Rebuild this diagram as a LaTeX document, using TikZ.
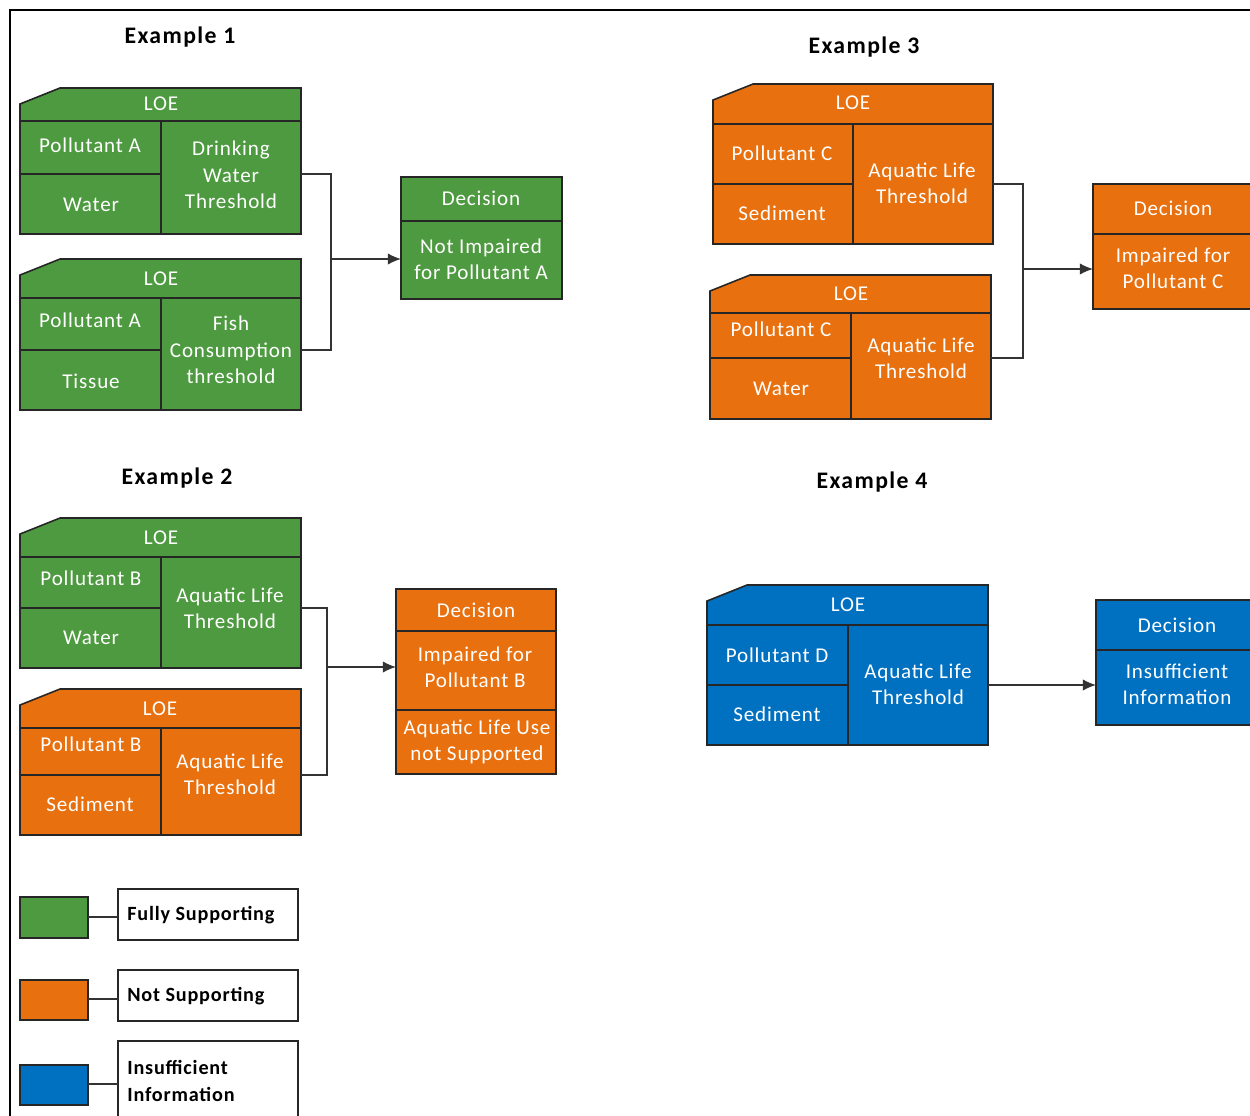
\documentclass[tikz,border=0pt]{standalone}
\usepackage{fontspec}
\setmainfont{Carlito}
\newfontfamily\boxfont[LetterSpace=4]{Carlito}
\newfontfamily\titlefont[LetterSpace=6]{Carlito}
\usetikzlibrary{arrows.meta}
\definecolor{cgreen}{HTML}{4E9A40}
\definecolor{corange}{HTML}{E8700F}
\definecolor{cblue}{HTML}{0070C0}
\tikzset{
  edge/.style={draw=black!85, line width=0.9pt, line join=miter},
  txt/.style={text=white, font=\boxfont\fontsize{12}{15}\selectfont, align=center, inner sep=0pt},
  ttl/.style={font=\titlefont\bfseries\fontsize{13.5}{16}\selectfont, inner sep=0pt},
  leg/.style={font=\boxfont\bfseries\fontsize{11.5}{15}\selectfont, align=left, inner sep=0pt, anchor=west},
  wire/.style={draw=black!80, line width=0.8pt},
  arr/.style={wire, -{Latex[length=7.5pt,width=6.5pt]}},
}
% name, xl, yt, xr, yh, ym, yb, xv, color
\newcommand\loebox[9]{%
  \path[fill=#9, edge] (#2+40,#3) -- (#4,#3) -- (#4,#7) -- (#2,#7) -- (#2,#3+16) -- cycle;
  \draw[edge] (#2,#5) -- (#4,#5) (#8,#5) -- (#8,#7) (#2,#6) -- (#8,#6);
  \coordinate (#1) at (#4,#6);
}
% name, xl, yt, xr, yd, ys, yb, color
\newcommand\decbox[8]{%
  \path[fill=#8, edge] (#2,#3) rectangle (#4,#7);
  \draw[edge] (#2,#5) -- (#4,#5) (#2,#6) -- (#4,#6);
  \coordinate (#1) at (#2,{(#5+#6)/2});
}
\begin{document}
\begin{tikzpicture}[x=0.02cm,y=-0.02cm]
\useasboundingbox (0,0) rectangle (1250,1115);
\clip (0,0) rectangle (1250,1115);
\fill[white] (0,0) rectangle (1250,1115);
\draw[line width=1.2pt] (10,1120) -- (10,10) -- (1260,10);

% ---------- Example 1 ----------
\node[ttl] (t1) at (180,37) {Example 1};
\loebox{e1a}{20}{88}{301}{121}{174}{234}{161}{cgreen}
\node[txt] (e1aH) at (161,104) {LOE};
\node[txt] (e1aP) at (90,145) {Pollutant A};
\node[txt] (e1aM) at (91,205) {Water};
\node[txt] (e1aT) at (231,175) {Drinking\\Water\\Threshold};
\loebox{e1b}{20}{259}{301}{298}{350}{410}{161}{cgreen}
\node[txt] (e1bH) at (161,279) {LOE};
\node[txt] (e1bP) at (90,320) {Pollutant A};
\node[txt] (e1bM) at (91,381) {Tissue};
\node[txt] (e1bT) at (231,350) {Fish\\Consumption\\threshold};
\decbox{d1}{401}{177}{562}{221}{299}{299}{cgreen}
\node[txt] (d1H) at (481,198) {Decision};
\node[txt] (d1B) at (481,259) {Not Impaired\\for Pollutant A};
\coordinate (j1) at (331,259);
\draw[wire] (e1a) -| (j1) |- (e1b);
\draw[arr] (j1) -- (j1 -| d1);

% ---------- Example 2 ----------
\node[ttl] (t2) at (177,478) {Example 2};
\loebox{e2a}{20}{518}{301}{557}{608}{668}{161}{cgreen}
\node[txt] (e2aH) at (161,538) {LOE};
\node[txt] (e2aP) at (91,578) {Pollutant B};
\node[txt] (e2aM) at (91,638) {Water};
\node[txt] (e2aT) at (230,608) {Aquatic Life\\Threshold};
\loebox{e2b}{20}{689}{301}{728}{775}{835}{161}{corange}
\node[txt] (e2bH) at (160,709) {LOE};
\node[txt] (e2bP) at (91,744) {Pollutant B};
\node[txt] (e2bM) at (90,804) {Sediment};
\node[txt] (e2bT) at (230,774) {Aquatic Life\\Threshold};
\decbox{d2}{396}{589}{556}{631}{710}{774}{corange}
\node[txt] (d2H) at (476,610) {Decision};
\node[txt] (d2B) at (475,667) {Impaired for\\Pollutant B};
\node[txt] (d2C) at (477,742) {Aquatic Life Use\\not Supported};
\coordinate (j2) at (327,667);
\draw[wire] (e2a) -| (j2) |- (e2b);
\draw[arr] (j2) -- (j2 -| d2);

% ---------- Example 3 ----------
\node[ttl] (t3) at (864,47) {Example 3};
\loebox{e3a}{713}{84}{993}{124}{184}{244}{853}{corange}
\node[txt] (e3aH) at (853,103) {LOE};
\node[txt] (e3aP) at (782,153) {Pollutant C};
\node[txt] (e3aM) at (782,213) {Sediment};
\node[txt] (e3aT) at (922,183) {Aquatic Life\\Threshold};
\loebox{e3b}{710}{275}{991}{313}{358}{419}{851}{corange}
\node[txt] (e3bH) at (851,294) {LOE};
\node[txt] (e3bP) at (781,329) {Pollutant C};
\node[txt] (e3bM) at (781,389) {Water};
\node[txt] (e3bT) at (921,358) {Aquatic Life\\Threshold};
\decbox{d3}{1093}{184}{1253}{234}{309}{309}{corange}
\node[txt] (d3H) at (1173,208) {Decision};
\node[txt] (d3B) at (1173,268) {Impaired for\\Pollutant C};
\coordinate (j3) at (1023,269);
\draw[wire] (e3a) -| (j3) |- (e3b);
\draw[arr] (j3) -- (j3 -| d3);

% ---------- Example 4 ----------
\node[ttl] (t4) at (872,482) {Example 4};
\loebox{e4a}{707}{585}{988}{625}{685}{745}{848}{cblue}
\node[txt] (e4aH) at (848,605) {LOE};
\node[txt] (e4aP) at (777,655) {Pollutant D};
\node[txt] (e4aM) at (777,714) {Sediment};
\node[txt] (e4aT) at (918,684) {Aquatic Life\\Threshold};
\decbox{d4}{1096}{600}{1258}{650}{725}{725}{cblue}
\node[txt] (d4H) at (1177,625) {Decision};
\node[txt] (d4B) at (1177,684) {Insufficient\\Information};
\draw[arr] (e4a) -- (e4a -| d4);

% ---------- Legend ----------
\path[fill=cgreen, edge] (20,897) rectangle (88,938);
\coordinate (lg1) at (88,917);
\path[fill=white, edge] (118,889) rectangle (298,940);
\coordinate (lb1) at (118,917);
\node[leg] (lt1) at (127,915) {Fully Supporting};
\draw[wire] (lg1) -- (lb1);

\path[fill=corange, edge] (20,980) rectangle (88,1020);
\coordinate (lg2) at (88,999);
\path[fill=white, edge] (118,970) rectangle (298,1021);
\coordinate (lb2) at (118,999);
\node[leg] (lt2) at (127,996) {Not Supporting};
\draw[wire] (lg2) -- (lb2);

\path[fill=cblue, edge] (20,1065) rectangle (88,1105);
\coordinate (lg3) at (88,1084);
\path[fill=white, edge] (118,1041) rectangle (298,1130);
\coordinate (lb3) at (118,1084);
\node[leg] (lt3) at (127,1081) {Insufficient\\Information};
\draw[wire] (lg3) -- (lb3);
\end{tikzpicture}
\end{document}
